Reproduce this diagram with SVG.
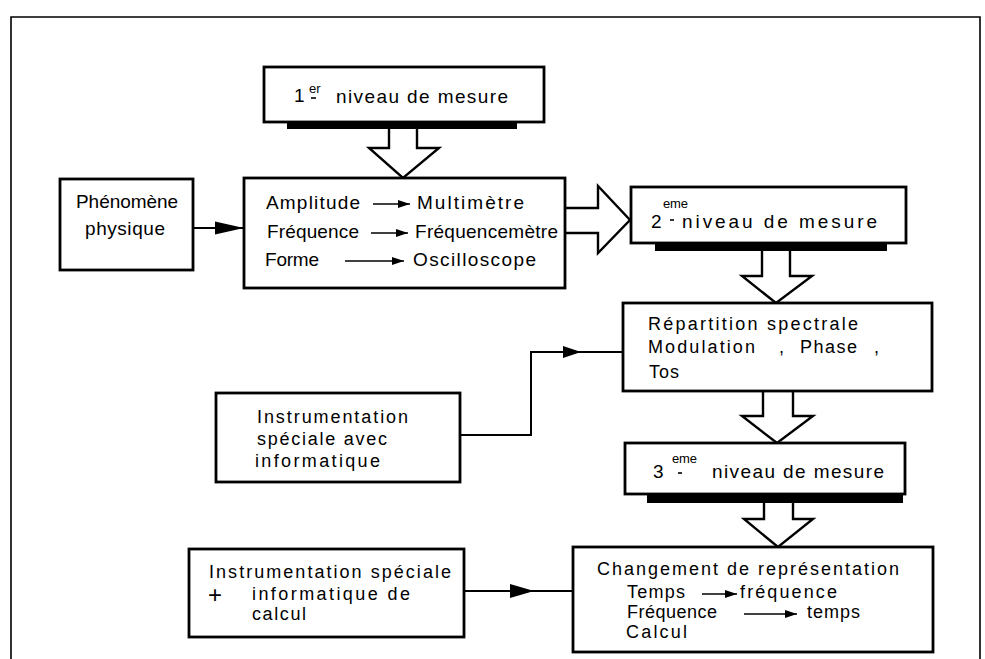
<svg xmlns="http://www.w3.org/2000/svg" width="985" height="659" viewBox="0 0 985 659">
<style>
.box{fill:#fff;stroke:#000;stroke-width:2.8}
.sh{fill:#000}
.big{fill:#fff;stroke:#000;stroke-width:2.4;stroke-linejoin:miter}
.frame{fill:none;stroke:#000;stroke-width:1.6}
.ln{fill:none;stroke:#000;stroke-width:2}
.sm{fill:none;stroke:#000;stroke-width:1.6}
.ah{fill:#000}
text{font-family:"Liberation Sans","DejaVu Sans",sans-serif;font-size:19px;fill:#000}
.s{font-size:18px}
.sup{font-size:13px}
</style>
<defs>
<marker id="sa" viewBox="0 0 12 8" refX="12" refY="4" markerWidth="12" markerHeight="8" markerUnits="userSpaceOnUse" orient="auto">
<path d="M0,0 L12,4 L0,8 Z" fill="#000"/>
</marker>
</defs>
<path class="frame" d="M11,659 L11,17 L980,17 L980,659"/>

<g id="connectors">
<line class="ln" x1="193" y1="228" x2="244" y2="228"/>
<polygon class="ah" points="215,221.5 244,228 215,234.5"/>
<polyline class="ln" points="460,435 531,435 531,352 623,352"/>
<polygon class="ah" points="563,346 581,352 563,358"/>
<line class="ln" x1="464" y1="591" x2="573" y2="591"/>
<polygon class="ah" points="510,584 534,591 510,598"/>
<polyline class="big" points="389,129 389,148 369,148 403,178 439,148 417,148 417,129"/>
<polyline class="big" points="565,208 598,208 598,186 630,220 598,253 598,233 565,233"/>
<polyline class="big" points="762,251 762,276 742,276 776,303 812,276 790,276 790,251"/>
<polyline class="big" points="763,391 763,416 742,416 777,443 813,416 793,416 793,391"/>
<polyline class="big" points="764,503 764,519 744,519 778,547 813,519 793,519 793,503"/>
</g>

<g id="n1">
<rect class="box" x="264" y="67" width="280" height="55"/>
<rect class="sh" x="287" y="122" width="230" height="7"/>
<text x="294" y="102">1</text>
<text class="sup" x="309" y="93">er</text>
<line class="sm" x1="311" y1="98" x2="316" y2="98"/>
<text x="336" y="103" textLength="172" lengthAdjust="spacing">niveau de mesure</text>
</g>

<g id="n2">
<rect class="box" x="60" y="179" width="133" height="91"/>
<text x="76" y="208" textLength="102" lengthAdjust="spacing">Phénomène</text>
<text x="85" y="235" textLength="80" lengthAdjust="spacing">physique</text>
</g>

<g id="n3">
<rect class="box" x="244" y="178" width="321" height="110"/>
<text x="266" y="209" textLength="94" lengthAdjust="spacing">Amplitude</text>
<line class="sm" x1="373" y1="204" x2="410" y2="204" marker-end="url(#sa)"/>
<text x="417" y="209" textLength="107" lengthAdjust="spacing">Multimètre</text>
<text x="267" y="238" textLength="92" lengthAdjust="spacing">Fréquence</text>
<line class="sm" x1="371" y1="233" x2="408" y2="233" marker-end="url(#sa)"/>
<text x="415" y="238" textLength="143" lengthAdjust="spacing">Fréquencemètre</text>
<text x="265" y="266" textLength="54" lengthAdjust="spacing">Forme</text>
<line class="sm" x1="345" y1="261" x2="404" y2="261" marker-end="url(#sa)"/>
<text x="413" y="266" textLength="123" lengthAdjust="spacing">Oscilloscope</text>
</g>

<g id="n4">
<rect class="box" x="631" y="187" width="275" height="56"/>
<rect class="sh" x="655" y="243" width="232" height="8"/>
<text x="651" y="228">2</text>
<text class="sup" x="663" y="208" textLength="25" lengthAdjust="spacing">eme</text>
<line class="sm" x1="670" y1="220" x2="674" y2="220"/>
<text x="682" y="228" textLength="195" lengthAdjust="spacing">niveau de mesure</text>
</g>

<g id="n5">
<rect class="box" x="623" y="303" width="309" height="88"/>
<text class="s" x="648" y="330" textLength="210" lengthAdjust="spacing">Répartition spectrale</text>
<text class="s" x="648" y="353" textLength="107" lengthAdjust="spacing">Modulation</text>
<text class="s" x="779" y="353">,</text>
<text class="s" x="800" y="353" textLength="57" lengthAdjust="spacing">Phase</text>
<text class="s" x="874" y="353">,</text>
<text class="s" x="649" y="378" textLength="30" lengthAdjust="spacing">Tos</text>
</g>

<g id="n6">
<rect class="box" x="216" y="393" width="244" height="89"/>
<text class="s" x="257" y="423" textLength="151" lengthAdjust="spacing">Instrumentation</text>
<text class="s" x="257" y="445" textLength="130" lengthAdjust="spacing">spéciale avec</text>
<text class="s" x="255" y="467" textLength="125" lengthAdjust="spacing">informatique</text>
</g>

<g id="n7">
<rect class="box" x="625" y="443" width="280" height="51"/>
<rect class="sh" x="647" y="494" width="256" height="9"/>
<text x="653" y="478">3</text>
<text class="sup" x="672" y="463" textLength="25" lengthAdjust="spacing">eme</text>
<line class="sm" x1="678" y1="473" x2="682" y2="473"/>
<text x="712" y="478" textLength="172" lengthAdjust="spacing">niveau de mesure</text>
</g>

<g id="n8">
<rect class="box" x="189" y="549" width="275" height="88"/>
<text class="s" x="209" y="578" textLength="242" lengthAdjust="spacing">Instrumentation spéciale</text>
<text x="208" y="603" style="font-size:24px">+</text>
<text class="s" x="252" y="600" textLength="158" lengthAdjust="spacing">informatique de</text>
<text class="s" x="252" y="620" textLength="54" lengthAdjust="spacing">calcul</text>
</g>

<g id="n9">
<rect class="box" x="573" y="547" width="360" height="105"/>
<text class="s" x="597" y="575" textLength="302" lengthAdjust="spacing">Changement de représentation</text>
<text class="s" x="627" y="598" textLength="58" lengthAdjust="spacing">Temps</text>
<line class="sm" x1="702" y1="594" x2="737" y2="594" marker-end="url(#sa)"/>
<text class="s" x="740" y="598" textLength="97" lengthAdjust="spacing">fréquence</text>
<text class="s" x="627" y="618" textLength="90" lengthAdjust="spacing">Fréquence</text>
<line class="sm" x1="744" y1="614" x2="797" y2="614" marker-end="url(#sa)"/>
<text class="s" x="807" y="618" textLength="53" lengthAdjust="spacing">temps</text>
<text class="s" x="626" y="638" textLength="61" lengthAdjust="spacing">Calcul</text>
</g>
</svg>
